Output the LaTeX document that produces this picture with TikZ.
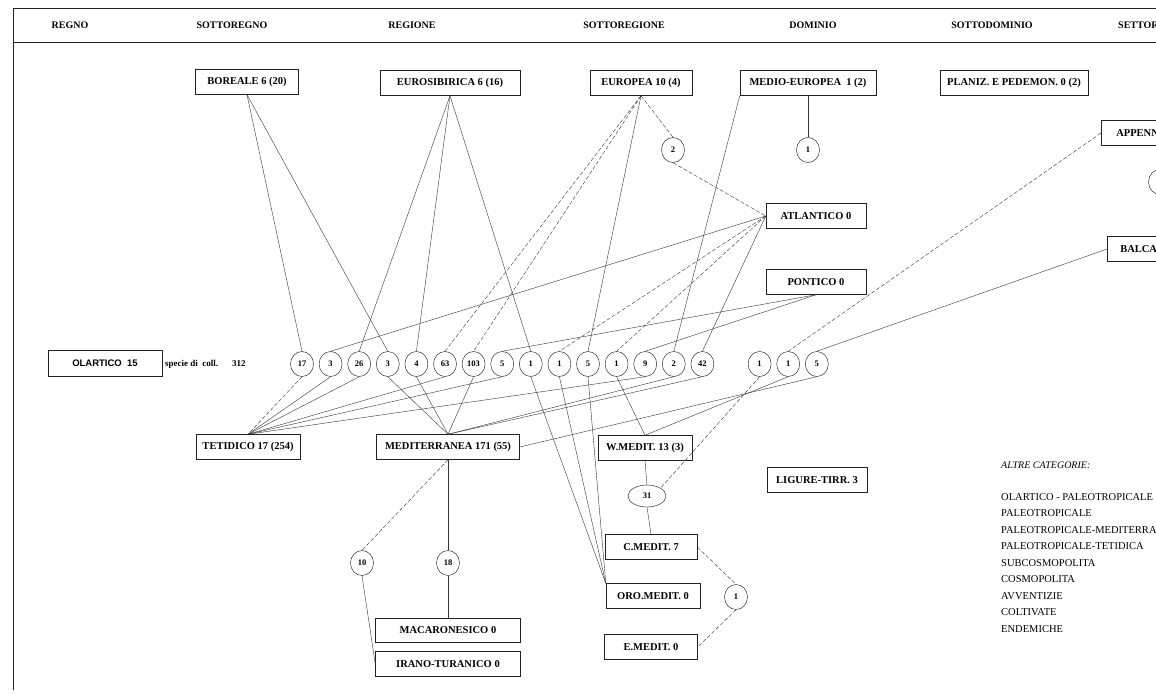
\documentclass[tikz,border=0pt]{standalone}
\usepackage{fontspec}
\setmainfont{Liberation Serif}
\newfontfamily\olsans{Liberation Sans}
\usepackage{tikz}
\usetikzlibrary{shapes.geometric}
\definecolor{inkline}{HTML}{333333}
\definecolor{inkbox}{HTML}{222222}

\begin{document}
\begin{tikzpicture}[x=1pt, y=-1pt,
  catbox/.style={draw=inkbox, line width=0.5pt, minimum height=25pt, inner sep=2pt,
    font=\fontsize{10.5}{12}\selectfont\bfseries},
  num/.style={draw=inkbox, ellipse, line width=0.45pt, inner sep=0pt,
    minimum width=23pt, minimum height=25pt, font=\fontsize{8.5}{10}\selectfont\bfseries},
  head/.style={font=\fontsize{10}{12}\selectfont\bfseries, inner sep=0pt},
  lst/.style={font=\fontsize{10.5}{12}\selectfont, anchor=west, inner sep=0pt},
  link/.style={draw=inkline, line width=0.4pt},
  dlink/.style={link, dash pattern=on 4pt off 2pt},
  rule/.style={draw=inkbox, line width=0.7pt}]
  \clip (0,0) rectangle (1156,697);

  % ── Header ──
  \draw[rule] (13,8) -- (1156,8);
  \draw[rule] (13,42) -- (1156,42);
  \draw[rule] (13,8) -- (13,690);
  \node[head] (hregno) at (70,25) {REGNO};
  \node[head] (hsregno) at (232,25) {SOTTOREGNO};
  \node[head] (hregione) at (412,25) {REGIONE};
  \node[head] (hsregione) at (624,25) {SOTTOREGIONE};
  \node[head] (hdominio) at (813,25) {DOMINIO};
  \node[head] (hsdominio) at (992,25) {SOTTODOMINIO};
  \node[head, anchor=west] (hsettore) at (1118,25) {SETTORE};

  % ── Upper categories ──
  \node[catbox, minimum width=103pt] (boreale) at (247,82) {BOREALE 6 (20)};
  \node[catbox, minimum width=140pt] (eurosib) at (450,83) {EUROSIBIRICA 6 (16)};
  \node[catbox, minimum width=102pt] (europea) at (641,83) {EUROPEA 10 (4)};
  \node[catbox, minimum width=136pt] (medioeu) at (808,83) {MEDIO-EUROPEA~~1 (2)};
  \node[catbox, minimum width=148pt] (planiz) at (1014,83) {PLANIZ. E PEDEMON. 0 (2)};
  \node[catbox, anchor=west, inner xsep=15pt] (appenn) at (1101,133) {APPENNINICO};
  \node[catbox, anchor=west, inner xsep=13pt] (balca) at (1107,249) {BALCANICO};
  \node[num] (cappenn) at (1160,182) {1};
  \node[num] (eu2) at (673,150) {2};
  \node[num] (me1) at (808,150) {1};
  \node[catbox, minimum width=100pt] (atlantico) at (816,216) {ATLANTICO 0};
  \node[catbox, minimum width=100pt] (pontico) at (816,282) {PONTICO 0};

  % ── Row of transitions ──
  \node[catbox, font=\olsans\fontsize{9.5}{11}\selectfont\bfseries,
    minimum width=114pt, minimum height=26pt] (olartico) at (105,363) {OLARTICO~~15};
  \node[font=\fontsize{9}{10}\selectfont\bfseries, anchor=west, inner sep=0pt]
    (coll) at (165,364) {specie di~~coll.\hspace{14pt}312};
  \foreach \i/\v in {0/17,1/3,2/26,3/3,4/4,5/63,6/103,7/5,8/1,9/1,10/5,11/1,12/9,
    13/2,14/42,16/1,17/1,18/5}
    \node[num] (c\i) at ({302+28.6*\i},364) {\v};

  % ── Lower categories ──
  \node[catbox, minimum width=104pt] (tetidico) at (248,447) {TETIDICO 17 (254)};
  \node[catbox, minimum width=143pt] (mediterr) at (448,447) {MEDITERRANEA 171 (55)};
  \node[catbox, minimum width=94pt] (wmedit) at (645,448) {W.MEDIT. 13 (3)};
  \node[catbox, minimum width=100pt] (ligure) at (817,480) {LIGURE-TIRR. 3};
  \node[num, minimum width=38pt, minimum height=22pt] (w31) at (647,496) {31};
  \node[catbox, minimum width=92pt] (cmedit) at (651,547) {C.MEDIT. 7};
  \node[catbox, minimum width=94pt] (oromedit) at (653,596) {ORO.MEDIT. 0};
  \node[catbox, minimum width=93pt] (emedit) at (651,647) {E.MEDIT. 0};
  \node[num] (e1) at (736,597) {1};
  \node[num] (m10) at (362,563) {10};
  \node[num] (m18) at (448,563) {18};
  \node[catbox, minimum width=145pt, minimum height=24pt] (macaron) at (448,630) {MACARONESICO 0};
  \node[catbox, minimum width=145pt] (irano) at (448,664) {IRANO-TURANICO 0};

  % ── Other categories ──
  \node[lst, font=\fontsize{10}{12}\selectfont\itshape] (altre) at (1001,465) {ALTRE CATEGORIE:};
  \foreach \t [count=\k from 0] in {OLARTICO - PALEOTROPICALE, PALEOTROPICALE,
    PALEOTROPICALE-MEDITERRANEA, PALEOTROPICALE-TETIDICA, SUBCOSMOPOLITA,
    COSMOPOLITA, AVVENTIZIE, COLTIVATE, ENDEMICHE}
    \node[lst] (alt\k) at (1001,{497+16.5*\k}) {\t};

  % ── Links to the upper categories ──
  \foreach \a/\b in {boreale.south/c0, boreale.south/c3, atlantico.west/c1,
    eurosib.south/c2, eurosib.south/c4, eurosib.south/c8, pontico.south/c7,
    pontico.south/c12, europea.south/c10, medioeu.south west/c13,
    atlantico.west/c14, balca.west/c18}
    \draw[link] (\a) -- (\b.north);
  \foreach \a/\b in {europea.south/c5, europea.south/c6, atlantico.west/c9,
    atlantico.west/c11, appenn.west/c17}
    \draw[dlink] (\a) -- (\b.north);

  % ── Links to the lower categories ──
  \foreach \a/\b in {c1/tetidico.north, c2/tetidico.north, c5/tetidico.north,
    c7/tetidico.north, c12/tetidico.north, c3/mediterr.north, c4/mediterr.north,
    c6/mediterr.north, c13/mediterr.north, c14/mediterr.north,
    c8/oromedit.north west, c9/oromedit.north west, c10/oromedit.north west,
    c11/wmedit.north, c17/wmedit.north, c18/mediterr.east}
    \draw[link] (\a.south) -- (\b);
  \draw[dlink] (c0.south) -- (tetidico.north);
  \draw[dlink] (c16.south) -- (w31.north east);

  % ── Single chains ──
  \draw[dlink] (europea.south) -- (eu2.north);
  \draw[dlink] (eu2.south) -- (atlantico.west);
  \draw[link] (medioeu.south) -- (me1.north);
  \draw[link] (mediterr.south) -- (m18.north);
  \draw[link] (m18.south) -- (macaron.north);
  \draw[dlink] (mediterr.south) -- (m10.north);
  \draw[link] (m10.south) -- (irano.west);
  \draw[link] (wmedit.south) -- (w31.north);
  \draw[link] (w31.south) -- (cmedit.north);
  \draw[dlink] (cmedit.east) -- (e1.north);
  \draw[dlink] (e1.south) -- (emedit.east);

\end{tikzpicture}
\end{document}
